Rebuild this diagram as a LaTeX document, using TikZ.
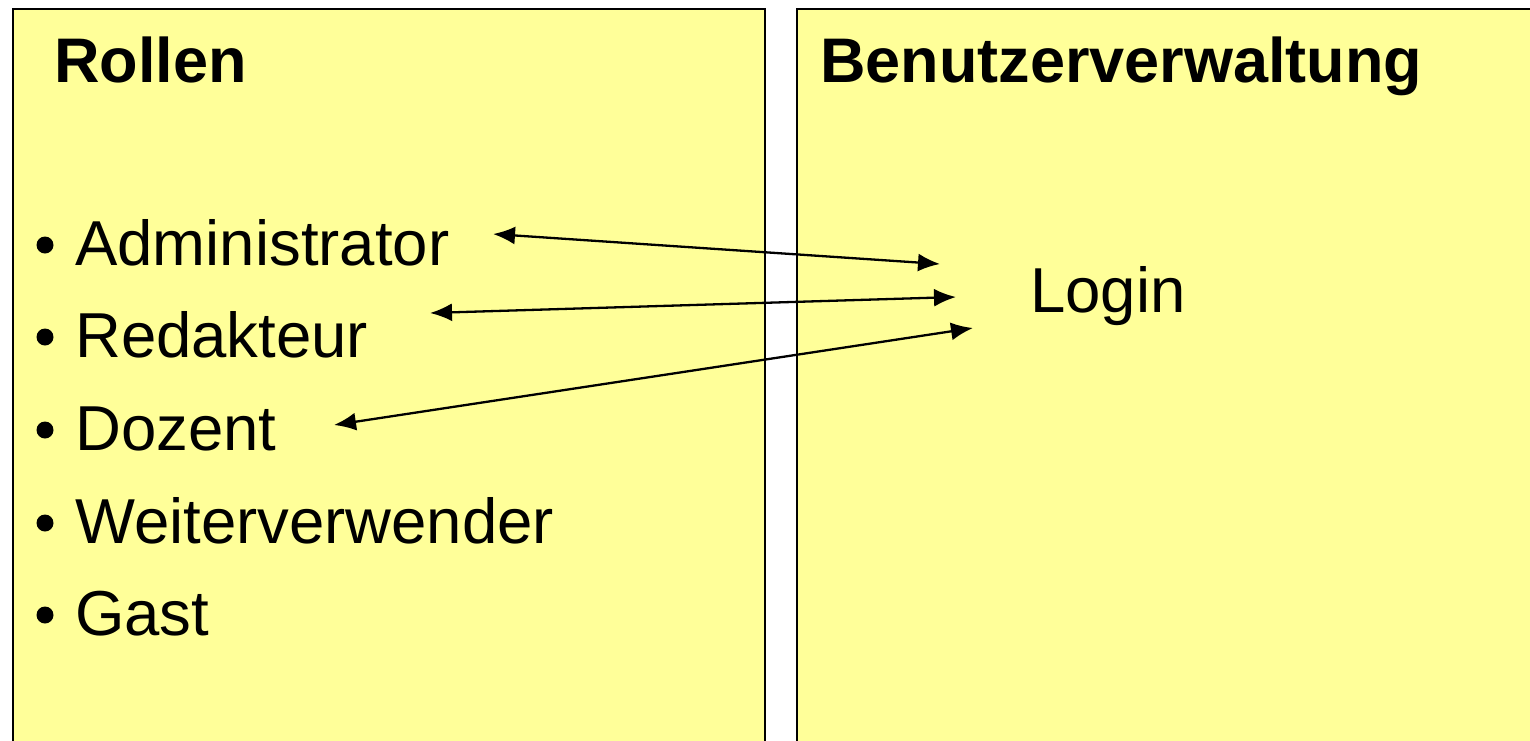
\documentclass[tikz,border=0pt]{standalone}
\usepackage{fontspec}
\setmainfont{Liberation Sans}
\usetikzlibrary{arrows.meta}
\definecolor{notebg}{RGB}{255,255,153}
\tikzset{
  panel/.style={draw=black, line width=2.5pt, fill=notebg},
  title/.style={anchor=base west, inner sep=0pt, font=\fontsize{63pt}{76pt}\selectfont\bfseries},
  item/.style={anchor=base west, inner sep=0pt, font=\fontsize{63.5pt}{76pt}\selectfont},
  bullet/.style={circle, fill=black, inner sep=0pt, minimum size=17pt},
  link/.style={line width=2.3pt, {Latex[length=22pt,width=18pt]}-{Latex[length=22pt,width=18pt]}}
}
\begin{document}
\begin{tikzpicture}[x=1pt,y=-1pt]
\useasboundingbox (0,0) rectangle (1530,740);
\fill[white] (0,0) rectangle (1530,740);
\begin{scope}
\clip (0,0) rectangle (1530,740);
\draw[panel] (13,9) rectangle (765,780);
\draw[panel] (797,9) rectangle (1560,780);
\end{scope}
\node[title] (rollen) at (54,82) {Rollen};
\node[title] (bv) at (820,82) {Benutzerverwaltung};
\node[item] (adm) at (75,265) {Administrator};
\node[item] (red) at (75,357) {Redakteur};
\node[item] (doz) at (75,450) {Dozent};
\node[item] (wei) at (75,543) {Weiterverwender};
\node[item] (gast) at (75,635) {Gast};
\node[bullet] (b1) at (45,245) {};
\node[bullet] (b2) at (45,337) {};
\node[bullet] (b3) at (45,430) {};
\node[bullet] (b4) at (45,523) {};
\node[bullet] (b5) at (45,615) {};
\node[item] (login) at (1030,312) {Login};
\coordinate (a1) at (493,234);
\coordinate (l1) at (940,264);
\coordinate (a2) at (430,313);
\coordinate (l2) at (956,297);
\coordinate (a3) at (334,425);
\coordinate (l3) at (973,328);
\draw[link] (a1) -- (l1);
\draw[link] (a2) -- (l2);
\draw[link] (a3) -- (l3);
\end{tikzpicture}
\end{document}
